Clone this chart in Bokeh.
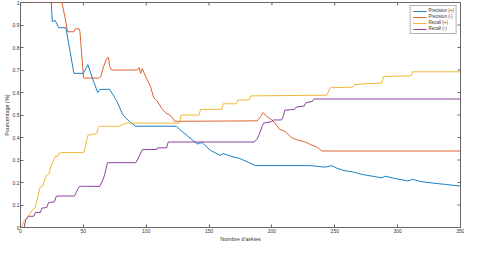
import math
from bokeh.plotting import figure
from bokeh.models import FixedTicker, Range1d, Legend, LegendItem
from bokeh.embed import file_html
from bokeh.resources import INLINE

# ---- data ----
prec_pos_x = [0, 24.5, 25.3, 27.6, 30.4, 36.1, 42.5, 50.0, 53.6, 57.2, 61.4, 63.1, 70.9, 76.3, 81.5, 86.6, 91.7,
              124.0, 127.8, 132.9, 140.6, 144.5, 151.0, 158.7, 161.3, 169.0, 174.2, 181.9, 187.0, 230.8, 242.4,
              247.6, 251.5, 256.6, 264.3, 272.0, 279.8, 287.5, 290.1, 297.8, 308.1, 312.0, 318.4, 328.7, 339.0, 350]
prec_pos_y = [1.0, 1.0, 0.915, 0.92, 0.888, 0.888, 0.685, 0.685, 0.724, 0.664, 0.60, 0.614, 0.614, 0.565, 0.50,
              0.471, 0.45, 0.45, 0.43, 0.407, 0.371, 0.378, 0.343, 0.321, 0.328, 0.314, 0.307, 0.288, 0.275, 0.275,
              0.268, 0.275, 0.264, 0.254, 0.247, 0.2355, 0.228, 0.221, 0.228, 0.218, 0.207, 0.214, 0.204, 0.197,
              0.191, 0.184]

prec_neg_x = [4.0, 33.0, 36.1, 37.4, 42.5, 43.8, 45.0, 46.4, 47.3, 50.2, 62.1, 63.9, 66.0, 68.5, 69.9, 71.1, 72.4,
              93.0, 94.3, 95.6, 96.9, 98.1, 100.8, 103.3, 105.9, 108.5, 112.4, 116.2, 118.8, 121.3, 122.6, 188.3,
              190.9, 193.0, 196.1, 200.0, 202.5, 206.3, 210.2, 215.4, 220.6, 225.7, 230.8, 236.0, 239.9, 350]
prec_neg_y = [1.0, 1.0, 0.913, 0.87, 0.87, 0.885, 0.88, 0.885, 0.87, 0.664, 0.664, 0.671, 0.714, 0.75, 0.757, 0.714,
              0.70, 0.70, 0.711, 0.685, 0.707, 0.69, 0.657, 0.628, 0.578, 0.564, 0.528, 0.507, 0.50, 0.485, 0.472,
              0.474, 0.492, 0.511, 0.492, 0.478, 0.464, 0.4355, 0.428, 0.40, 0.388, 0.382, 0.368, 0.357, 0.34, 0.34]

rec_pos_x = [0.3, 1.3, 2.6, 5.2, 7.7, 10.4, 11.6, 12.9, 15.5, 17.5, 19.3, 20.6, 22.4, 24.5, 25.8, 27.8, 29.7, 30.9,
             32.2, 50.2, 51.5, 53.6, 56.7, 60.6, 61.8, 63.1, 78.6, 79.9, 84.0, 126.5, 127.8, 142.0, 143.3, 160.0,
             161.3, 171.6, 172.9, 181.9, 183.2, 243.7, 246.3, 264.3, 265.6, 274.6, 287.5, 288.8, 310.7, 312.0, 350]
rec_pos_y = [0.0, 0.007, 0.029, 0.043, 0.064, 0.083, 0.086, 0.114, 0.179, 0.183, 0.214, 0.231, 0.236, 0.278, 0.293,
             0.317, 0.317, 0.331, 0.333, 0.333, 0.357, 0.41, 0.414, 0.417, 0.445, 0.45, 0.45, 0.454, 0.464, 0.464,
             0.50, 0.50, 0.525, 0.525, 0.55, 0.55, 0.567, 0.567, 0.585, 0.588, 0.621, 0.624, 0.635, 0.639, 0.642,
             0.671, 0.674, 0.692, 0.692]

rec_neg_x = [2.9, 4.2, 6.7, 10.6, 11.9, 15.8, 17.0, 20.9, 22.2, 27.0, 28.4, 29.9, 43.0, 44.4, 46.4, 47.7, 63.1, 65.7,
             67.0, 69.1, 91.7, 93.0, 94.8, 96.9, 108.5, 109.1, 116.2, 117.5, 185.8, 188.3, 190.9, 192.2, 193.5,
             200.0, 201.3, 207.6, 208.9, 210.2, 218.0, 219.2, 225.7, 227.0, 232.1, 233.4, 350]
rec_neg_y = [0.0, 0.036, 0.05, 0.05, 0.067, 0.067, 0.086, 0.089, 0.11, 0.114, 0.138, 0.14, 0.14, 0.157, 0.179, 0.183,
             0.183, 0.214, 0.236, 0.288, 0.288, 0.30, 0.321, 0.346, 0.347, 0.354, 0.354, 0.38, 0.38, 0.393, 0.428,
             0.45, 0.464, 0.471, 0.478, 0.478, 0.492, 0.521, 0.525, 0.535, 0.54, 0.555, 0.56, 0.571, 0.571]

series_names = ["Precision (+)", "Precision (-)", "Recall (+)", "Recall (-)"]
series_colors = ["#0072BD", "#D95319", "#EDB120", "#7E2F8E"]

x_ticks = [0, 50, 100, 150, 200, 250, 300, 350]
y_ticks = [0, 0.1, 0.2, 0.3, 0.4, 0.5, 0.6, 0.7, 0.8, 0.9, 1]
y_tick_labels = ["0", "0.1", "0.2", "0.3", "0.4", "0.5", "0.6", "0.7", "0.8", "0.9", "1"]
x_min, x_max = 0, 350
y_min, y_max = 0, 1

FONT = "Liberation Sans"
AXC = "#666666"

p = figure(width=464, height=244, output_backend="svg", toolbar_location=None,
           x_range=Range1d(x_min, x_max), y_range=Range1d(y_min, y_max),
           min_border_left=15, min_border_right=4, min_border_top=2, min_border_bottom=10)
p.xgrid.visible = False
p.ygrid.visible = False
p.outline_line_color = AXC
p.outline_line_width = 1

xs = [prec_pos_x, prec_neg_x, rec_pos_x, rec_neg_x]
ys = [prec_pos_y, prec_neg_y, rec_pos_y, rec_neg_y]
renderers = []
for xv, yv, c in zip(xs, ys, series_colors):
    renderers.append(p.line(xv, yv, line_color=c, line_width=0.9))

for ax in p.xaxis:
    ax.ticker = FixedTicker(ticks=x_ticks)
    ax.axis_label = "Nombre d'arêtes"
for ax in p.yaxis:
    ax.ticker = FixedTicker(ticks=y_ticks)
    ax.major_label_overrides = {t: l for t, l in zip(y_ticks, y_tick_labels)}
    ax.axis_label = "Pourcentage (%)"

for ax in list(p.xaxis) + list(p.yaxis):
    ax.major_tick_in = 3
    ax.major_tick_out = 0
    ax.minor_tick_in = 0
    ax.minor_tick_out = 0
    ax.axis_line_color = AXC
    ax.major_tick_line_color = AXC
    ax.major_label_text_font = FONT
    ax.major_label_text_font_size = "5px"
    ax.major_label_text_color = "#333333"
    ax.axis_label_text_font = FONT
    ax.axis_label_text_font_size = "5.5px"
    ax.axis_label_text_font_style = "normal"
    ax.axis_label_text_color = "#333333"
    ax.major_label_standoff = 1
    ax.axis_label_standoff = 0

# Mirror tick marks on top and right edges (box style); clipped to the frame so only the inner half shows
p.scatter(x_ticks, [y_max] * len(x_ticks), marker="dash", size=6, angle=math.pi / 2,
          line_color=AXC, line_width=1)
p.scatter([x_max] * len(y_ticks), y_ticks, marker="dash", size=6,
          line_color=AXC, line_width=1)

legend = Legend(items=[LegendItem(label=n, renderers=[r]) for n, r in zip(series_names, renderers)],
                location="top_right")
legend.label_text_font = FONT
legend.label_text_font_size = "4.5px"
legend.label_text_color = "#333333"
legend.glyph_width = 14
legend.glyph_height = 4
legend.label_height = 4
legend.label_standoff = 2
legend.spacing = 1
legend.padding = 2
legend.margin = 3
legend.border_line_color = AXC
legend.border_line_width = 1
legend.background_fill_alpha = 1
p.add_layout(legend)

open("out.html", "w").write(file_html(p, INLINE))
